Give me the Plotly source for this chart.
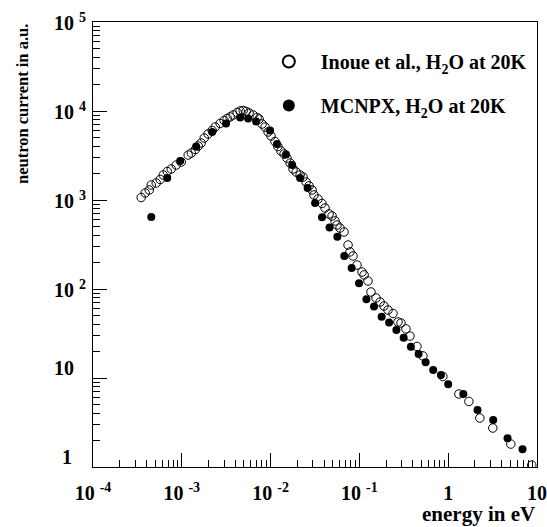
import math
import plotly.graph_objects as go

# ---- data ----
inoue_energy = [3.49e-4, 3.87e-4, 4.30e-4, 4.53e-4, 5.15e-4, 5.71e-4, 6.18e-4, 6.86e-4, 7.60e-4, 8.65e-4,
                9.84e-4, 1.18e-3, 1.28e-3, 1.42e-3, 1.53e-3, 1.65e-3, 1.79e-3, 1.98e-3, 2.20e-3, 2.38e-3,
                2.70e-3, 3.00e-3, 3.24e-3, 3.50e-3, 3.78e-3, 4.20e-3, 4.54e-3, 4.91e-3, 5.30e-3, 5.73e-3,
                6.35e-3, 7.05e-3, 7.43e-3, 8.02e-3, 8.67e-3, 9.37e-3, 1.01e-2, 1.12e-2, 1.21e-2, 1.31e-2,
                1.42e-2, 1.53e-2, 1.66e-2, 1.79e-2, 1.94e-2, 2.15e-2, 2.32e-2, 2.51e-2, 2.71e-2, 2.93e-2,
                3.08e-2, 3.42e-2, 3.79e-2, 4.10e-2, 4.55e-2, 4.92e-2, 5.32e-2, 5.60e-2, 6.05e-2, 6.71e-2,
                7.45e-2, 7.83e-2, 8.47e-2, 9.40e-2, 0.107, 0.113, 0.125, 0.135, 0.154, 0.171,
                0.189, 0.210, 0.239, 0.272, 0.294, 0.334, 0.371, 0.445, 0.519, 0.871,
                1.32, 1.71, 2.27, 3.18, 5.07, 8.73]
inoue_current = [1067, 1199, 1295, 1475, 1552, 1700, 1910, 2090, 2230, 2470,
                 2670, 3200, 3370, 3690, 4040, 4370, 4970, 5520, 6040, 6610,
                 7240, 7820, 8240, 8570, 9020, 9620, 10000, 10130, 9870, 9500,
                 9020, 8450, 8130, 7140, 6610, 5810, 5240, 4540, 3990, 3550,
                 3290, 2960, 2600, 2230, 2060, 1910, 1810, 1590, 1440, 1295,
                 1138, 1026, 914, 813, 697, 661, 581, 524, 484, 437,
                 312, 261, 235, 186, 155, 144, 123, 92.5, 79.2, 71.4,
                 64.4, 58.1, 53.1, 42.6, 41.5, 35.6, 29.6, 22.6, 17.7, 10.4,
                 6.61, 5.45, 3.55, 2.74, 1.81, 1.05]

mcnpx_energy = [4.53e-4, 6.86e-4, 9.59e-4, 1.45e-3, 2.20e-3, 3.15e-3, 4.54e-3, 5.58e-3, 6.87e-3, 9.86e-3,
                1.18e-2, 1.49e-2, 1.75e-2, 2.15e-2, 2.61e-2, 3.17e-2, 3.79e-2, 4.61e-2, 5.64e-2, 6.76e-2,
                8.18e-2, 9.91e-2, 0.120, 0.146, 0.178, 0.216, 0.261, 0.315, 0.380, 0.464,
                0.557, 0.678, 0.828, 1.0, 1.48, 2.14, 3.21, 4.66, 6.87]
mcnpx_current = [644, 1767, 2740, 3990, 5810, 7240, 8450, 8240, 7620, 6040,
                 4260, 3250, 2470, 1767, 1364, 925, 639, 491, 387, 235,
                 172, 116, 76.6, 63.6, 48.9, 42.0, 34.6, 28.4, 22.5, 18.6,
                 15.0, 12.3, 10.8, 8.50, 6.61, 4.37, 3.37, 2.10, 1.58]

x_tick_values = [1e-4, 1e-3, 1e-2, 1e-1, 1, 10]
x_tick_labels = ["10 <sup>-4</sup>", "10 <sup>-3</sup>", "10 <sup>-2</sup>", "10 <sup>-1</sup>", "1", "10"]
y_tick_values = [1, 10, 100, 1000, 10000, 100000]
y_tick_labels = ["1", "10", "10 <sup>2</sup>", "10 <sup>3</sup>", "10 <sup>4</sup>", "10 <sup>5</sup>"]

series_names = ["Inoue et al., H<sub>2</sub>O at 20K", "MCNPX, H<sub>2</sub>O at 20K"]

FONT = "Liberation Serif"
TICK_SIZE = 20

fig = go.Figure()
fig.add_trace(go.Scatter(
    x=inoue_energy, y=inoue_current, mode="markers", name=series_names[0], legendgroup="a",
    marker=dict(symbol="circle-open", size=8.5, color="black", line=dict(width=1, color="black")),
))
fig.add_trace(go.Scatter(
    x=mcnpx_energy, y=mcnpx_current, mode="markers", name=series_names[1], legendgroup="b",
    marker=dict(symbol="circle", size=8, color="black"),
))

axis_common = dict(
    type="log", ticks="inside", ticklen=14, tickwidth=1, tickcolor="black",
    showline=True, linecolor="black", linewidth=1, mirror=True,
    showgrid=False, zeroline=False, automargin=False,
    minor=dict(ticks="inside", ticklen=7, tickwidth=1, tickcolor="black", dtick="D1", showgrid=False),
)

fig.update_xaxes(range=[-4, 1], tickmode="array", tickvals=x_tick_values, ticktext=x_tick_labels,
                 ticklabelstandoff=8,
                 tickfont=dict(family=FONT, size=TICK_SIZE, color="black", weight="bold"), **axis_common)
fig.update_yaxes(range=[0, 5], tickmode="array", tickvals=y_tick_values, showticklabels=False, **axis_common)

annotations = []
for v, lab in zip(y_tick_values, y_tick_labels):
    if "<sup>" in lab:
        annotations.append(dict(xref="paper", yref="y", x=-0.092, y=math.log10(v), text=lab,
                                xanchor="left", yanchor="middle", showarrow=False,
                                font=dict(family=FONT, size=TICK_SIZE, color="black", weight="bold")))
    else:
        annotations.append(dict(xref="paper", yref="y", x=-0.092 if len(lab) > 1 else -0.058,
                                y=math.log10(v), text=lab,
                                xanchor="left" if len(lab) > 1 else "center", yanchor="middle", yshift=10,
                                showarrow=False,
                                font=dict(family=FONT, size=TICK_SIZE, color="black", weight="bold")))

annotations.append(dict(xref="paper", yref="paper", x=1.0, y=-0.106, text="energy in eV",
                        xanchor="right", yanchor="middle", showarrow=False,
                        font=dict(family=FONT, size=21, color="black", weight="bold")))
annotations.append(dict(xref="paper", yref="paper", x=-0.16, y=1.0, text="neutron current in a.u.",
                        textangle=-90, xanchor="center", yanchor="top", showarrow=False,
                        font=dict(family=FONT, size=16.5, color="black", weight="bold")))

fig.update_layout(
    width=547, height=527,
    margin=dict(l=93, r=10, t=22, b=60),
    plot_bgcolor="white", paper_bgcolor="white",
    font=dict(family=FONT, size=18, color="black", weight="bold"),
    showlegend=True,
    legend=dict(x=0.369, y=0.955, xanchor="left", yanchor="top",
                font=dict(family=FONT, size=20, color="black", weight="bold"),
                tracegroupgap=15, itemsizing="constant", itemwidth=54, bgcolor="rgba(0,0,0,0)",
                traceorder="grouped"),
    annotations=annotations,
)

fig.write_html("out.html", config={"displayModeBar": False},
               post_script="document.body.style.margin='0';")
